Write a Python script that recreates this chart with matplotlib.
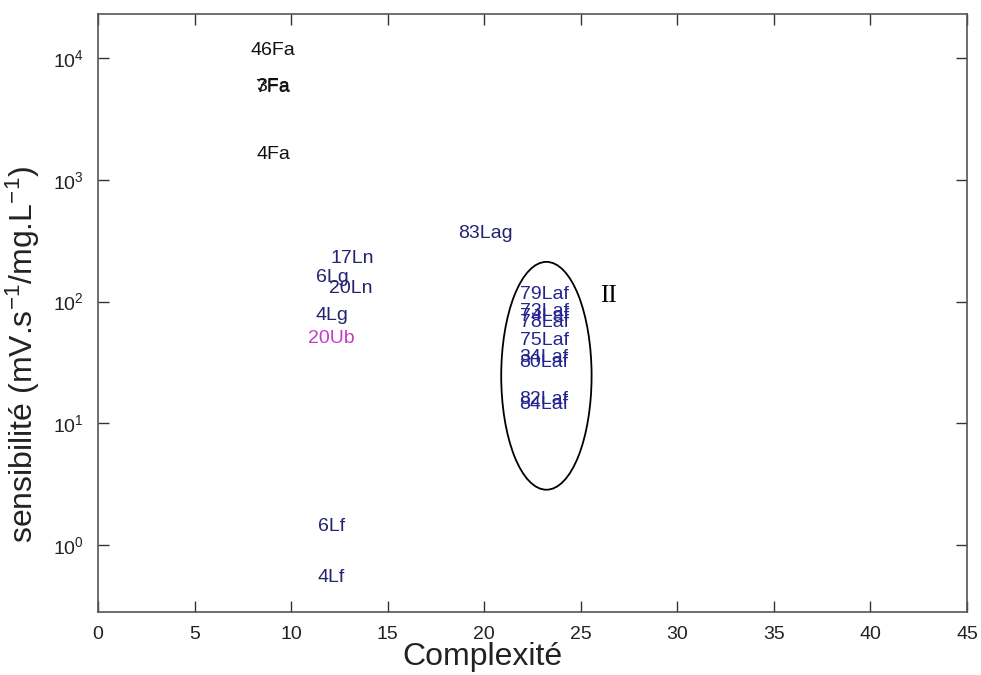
import numpy as np
import matplotlib
matplotlib.use("Agg")
import matplotlib.pyplot as plt
from matplotlib.patches import Ellipse

plt.rcParams['font.family'] = ['Liberation Sans', 'DejaVu Sans']
plt.rcParams['mathtext.fontset'] = 'custom'
plt.rcParams['mathtext.rm'] = 'Liberation Sans'

labels = ["46Fa", "3Fa", "7Fa", "4Fa",
          "17Ln", "6Lg", "20Ln", "4Lg", "20Ub", "83Lag", "6Lf", "4Lf",
          "79Laf", "73Laf", "74Laf", "78Laf", "75Laf", "34Laf", "80Laf", "82Laf", "84Laf"]
complexite = [7.9, 8.2, 8.2, 8.2,
              12.06, 11.28, 11.95, 11.28, 10.86, 18.66, 11.38, 11.38,
              21.83, 21.83, 21.83, 21.83, 21.83, 21.83, 21.83, 21.83, 21.83]
sensibilite = [11600, 5800, 5700, 1600,
               224, 157, 128, 77, 50, 361, 1.43, 0.546,
               114, 83, 75, 67, 48, 35, 31.6, 15.7, 14.3]
groups = ["Fa", "Fa", "Fa", "Fa",
          "L", "L", "L", "L", "Ub", "L", "L", "L",
          "Laf", "Laf", "Laf", "Laf", "Laf", "Laf", "Laf", "Laf", "Laf"]
colors = {"Fa": "#111111", "L": "#232370", "Ub": "#c63cc6", "Laf": "#25258f"}

xticks = [0, 5, 10, 15, 20, 25, 30, 35, 40, 45]
yticks = [1e0, 1e1, 1e2, 1e3, 1e4]
ytick_labels = [r"$\mathregular{10^{0}}$", r"$\mathregular{10^{1}}$", r"$\mathregular{10^{2}}$",
                r"$\mathregular{10^{3}}$", r"$\mathregular{10^{4}}$"]

fig = plt.figure(figsize=(9.81, 6.75), dpi=100)
ax = fig.add_axes([98/981, 1-612/675, 869/981, 598/675])
ax.set_yscale('log')
ax.set_xlim(0, 45)
ax.set_ylim(10**(-67/121.8), 10**(4+44/121.8))

for lab, x, y, g in zip(labels, complexite, sensibilite, groups):
    ax.text(x, y, lab, ha='left', va='center', fontsize=14, color=colors[g])

ax.set_xticks(xticks)
ax.set_xticklabels([str(t) for t in xticks])
ax.set_yticks(yticks)
ax.set_yticklabels(ytick_labels)
ax.yaxis.set_minor_locator(matplotlib.ticker.NullLocator())
ax.tick_params(direction='in', length=8, width=1.0, colors='#333333', labelcolor='#222222',
               labelsize=14, top=True, right=True, pad=10)
for s in ax.spines.values():
    s.set_color('#555555')
    s.set_linewidth(1.2)

ax.set_xlabel("Complexité", fontsize=23, color='#222222')
ax.xaxis.set_label_coords(0.442, -0.050)
ax.set_ylabel(r"sensibilité (mV.s$\mathregular{^{-1}}$/mg.L$\mathregular{^{-1}}$)", fontsize=23,
              color='#222222')
ax.yaxis.set_label_coords(-0.064, 0.43)

ell = Ellipse((0.516, 0.395), 0.104, 0.381, transform=ax.transAxes,
              fill=False, edgecolor='black', linewidth=1.3)
ax.add_patch(ell)
ax.text(0.578, 0.528, "II", transform=ax.transAxes, fontsize=18,
        family=['Liberation Serif', 'DejaVu Serif'], ha='left', va='center', color='black')

fig.savefig("out.png", dpi=100)
